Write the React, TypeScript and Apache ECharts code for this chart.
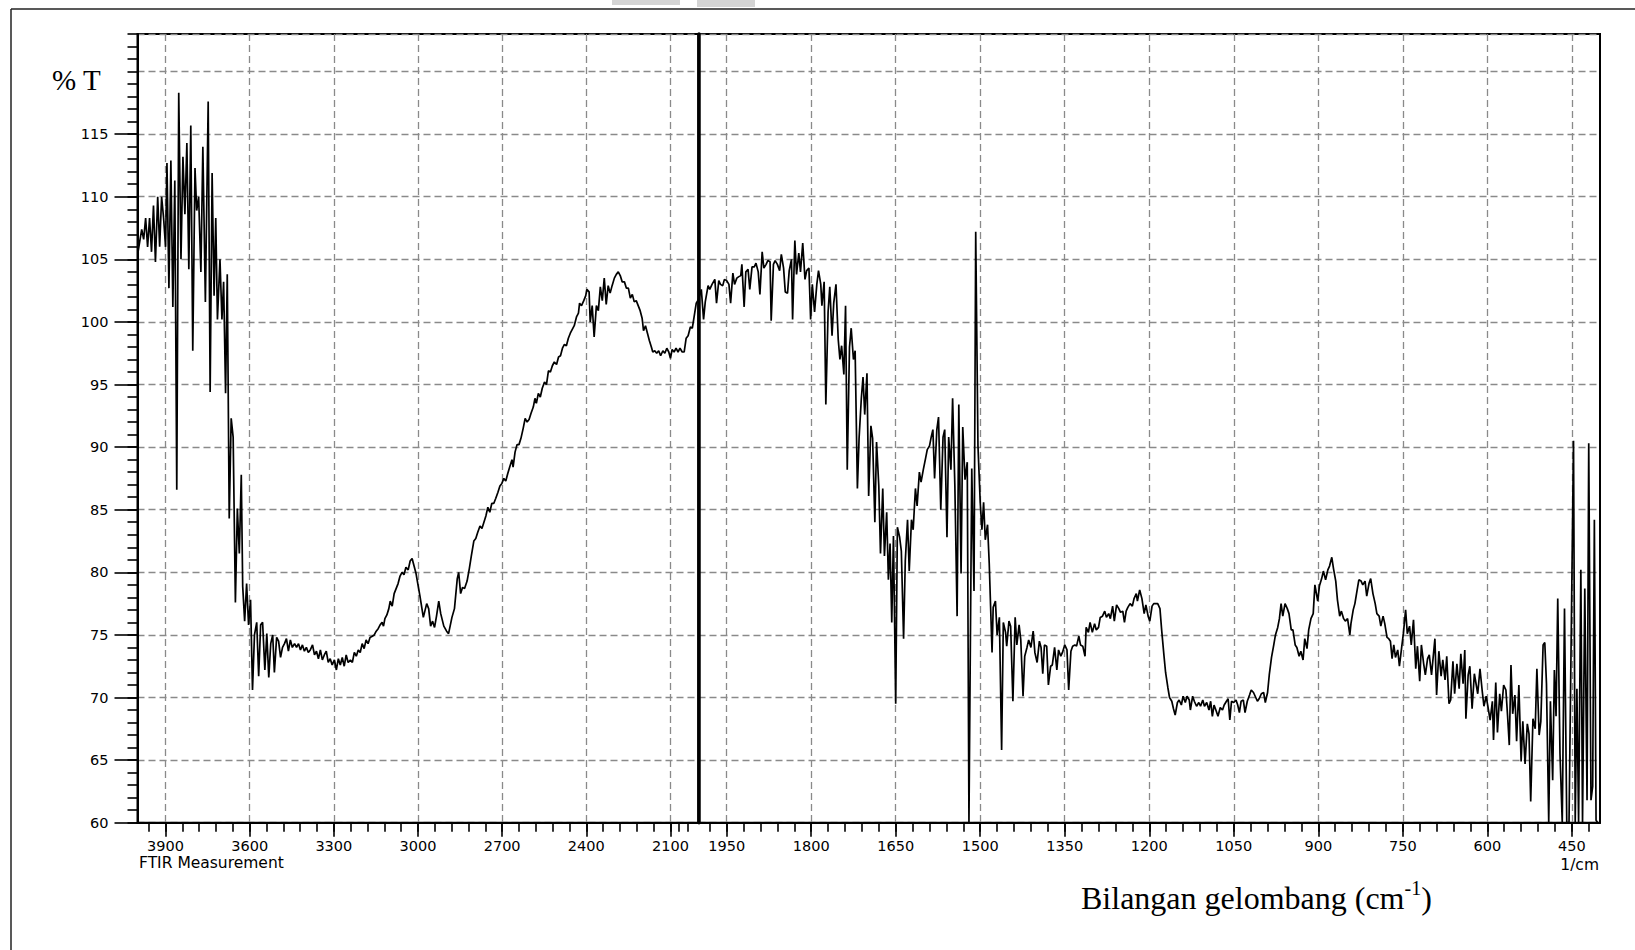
import React, { useEffect, useRef } from 'react';
import * as echarts from 'echarts';

// ---- Spectrum data: [wavenumber (1/cm), %T] ----
const OH_REGION: [number, number][] = [
  [3998,105.6],[3985,107.4],[3978,106.6],[3971,108.3],[3964,106.0],[3957,108.3],[3950,105.6],[3943,109.3],[3936,104.8],[3928,110.0],
  [3921,106.0],[3914,110.0],[3907,108.3],[3900,106.0],[3895,112.7],[3888,102.7],[3881,112.9],[3874,101.2],[3867,111.3],[3860,86.6],
  [3853,118.3],[3845,105.0],[3838,113.2],[3831,108.6],[3824,114.3],[3817,104.2],[3810,115.7],[3803,97.7],[3795,112.3],[3789,108.9],
  [3782,110.0],[3774,104.0],[3767,114.0],[3758,101.6],[3748,117.6],[3741,94.4],[3734,111.9],[3727,102.1],[3721,108.3],[3715,100.2],
  [3706,105.0],[3699,100.2],[3693,103.2],[3686,94.3],[3680,103.8],[3673,84.3],[3666,92.3],[3659,90.8],[3651,77.6],[3644,85.1],
  [3637,81.5],[3630,87.8],[3625,78.9],[3618,76.1],[3611,79.1],[3604,75.8],[3597,77.8],[3590,70.6],[3583,75.0],[3575,76.0],
  [3568,71.7],[3561,75.8],[3554,76.0],[3546,72.2],[3539,75.1],[3532,71.6],[3525,74.3],[3518,75.0],[3512,72.0],[3504,74.8]
];

const CH_REGION: [number, number][] = [
  [3497,74.5],[3490,73.2],[3483,74.0],[3476,74.3],[3469,74.7],[3462,73.7],[3455,74.6],[3448,74.0],[3440,74.3],[3433,74.0],
  [3426,74.3],[3419,73.8],[3412,74.2],[3405,73.7],[3398,74.0],[3391,73.6],[3384,73.8],[3376,74.2],[3369,73.4],[3362,73.7],
  [3355,73.1],[3348,73.8],[3341,73.0],[3334,73.4],[3327,73.7],[3320,72.8],[3313,73.1],[3306,72.6],[3298,73.0],[3291,72.2],
  [3284,73.1],[3277,72.6],[3270,73.2],[3263,72.5],[3256,73.4],[3249,72.8],[3241,73.0],[3234,72.8],[3227,73.6],[3220,73.3],
  [3213,73.8],[3206,73.6],[3199,74.3],[3192,73.9],[3185,74.6],[3178,74.3],[3171,74.8],[3163,74.9],[3156,75.0],[3149,75.3],
  [3142,75.5],[3135,75.8],[3128,76.0],[3123,75.7],[3118,76.3],[3111,76.6],[3104,77.1],[3099,77.7],[3092,77.3],[3085,78.3],
  [3078,78.7],[3071,79.1],[3064,79.7],[3057,80.0],[3050,79.8],[3043,80.4],[3035,80.2],[3028,80.9],[3021,81.1],[3014,80.5],
  [3007,79.9]
];

const MID_REGION: [number, number][] = [
  [3000,79.0],[2993,78.1],[2981,76.4],[2969,77.5],[2962,77.1],[2955,75.7],[2948,76.1],[2941,75.6],[2934,76.5],[2926,77.7],
  [2919,76.7],[2908,75.7],[2898,75.3],[2891,75.1],[2879,76.4],[2870,77.1],[2860,79.5],[2855,80.0],[2848,78.3],[2841,78.8],
  [2834,78.7],[2825,79.3],[2817,80.3],[2810,81.3],[2801,82.5],[2794,82.7],[2787,83.2],[2779,83.7],[2772,83.5],[2765,84.0],
  [2758,84.5],[2751,85.2],[2744,84.8],[2737,85.5],[2730,85.5],[2723,85.9],[2715,86.4],[2708,86.9],[2701,87.1],[2694,87.5],
  [2687,87.3],[2680,87.9],[2672,88.5],[2665,89.0],[2661,88.4],[2654,89.6],[2647,90.2],[2640,90.2],[2633,90.7],[2625,91.5],
  [2618,92.3],[2611,92.0],[2604,92.2],[2597,92.7],[2589,93.2],[2583,93.9],[2578,93.5],[2571,94.3],[2564,94.0],[2557,94.7],
  [2549,95.2],[2542,95.0],[2535,96.1],[2528,96.0],[2521,96.5],[2514,96.8],[2506,96.6],[2499,97.2],[2492,97.3],[2485,97.9],
  [2478,98.2],[2471,98.1],[2464,98.7],[2457,99.1],[2450,99.4],[2443,99.7],[2435,100.4],[2428,100.7],[2424,101.5],[2417,101.3],
  [2409,101.7],[2402,102.1],[2398,102.6],[2390,102.4],[2386,100.0],[2379,101.3],[2372,98.8],[2364,101.3],[2357,100.9],[2350,102.8],
  [2343,101.7],[2336,103.5],[2329,101.4],[2322,102.9],[2315,102.3],[2308,102.9],[2300,103.5],[2293,103.8],[2286,104.0],[2279,103.7],
  [2272,103.2],[2264,103.2],[2257,102.7],[2250,102.7],[2243,101.9],[2236,102.2],[2229,101.6],[2222,101.7],[2215,101.3],[2208,100.9],
  [2201,100.3],[2196,99.3],[2189,99.7],[2182,99.1],[2175,98.5],[2168,98.0],[2163,97.6],[2156,97.7],[2149,97.5],[2142,97.7],
  [2135,97.3],[2127,97.7],[2120,97.5],[2113,97.9],[2106,97.6],[2100,97.1],[2094,97.8],[2087,97.6],[2080,97.9],[2073,97.6],
  [2066,97.9],[2058,97.6],[2051,97.6],[2044,98.7],[2037,98.9],[2029,99.6],[2022,99.5],[2015,100.5],[2008,101.5],[2000,101.8]
];

const CARBONYL_REGION: [number, number][] = [
  [2000,101.8],[1999,101.8],[1995,102.6],[1991,100.2],[1988,101.6],[1983,102.9],[1980,102.6],[1976,103.0],[1971,103.4],[1968,101.5],
  [1964,103.3],[1961,103.0],[1957,102.9],[1954,103.4],[1950,103.3],[1946,103.0],[1943,101.5],[1939,103.9],[1936,103.0],[1932,103.5],
  [1929,103.6],[1925,103.7],[1923,104.6],[1919,101.2],[1916,104.0],[1912,104.2],[1909,102.6],[1905,104.4],[1901,104.4],[1898,104.7],
  [1894,104.0],[1891,102.2],[1887,105.6],[1884,104.3],[1880,104.6],[1877,104.9],[1873,104.8],[1871,100.1],[1867,104.6],[1864,104.9],
  [1860,104.6],[1856,104.1],[1853,105.4],[1849,104.3],[1846,102.4],[1842,102.3],[1839,104.1],[1835,105.0],[1833,100.2],[1829,106.5],
  [1826,103.8],[1822,105.5],[1819,104.0],[1815,106.3],[1811,103.4],[1808,104.1],[1804,104.3],[1801,100.2],[1798,103.0],[1794,100.8],
  [1790,103.0],[1787,104.1],[1783,103.0],[1781,101.3],[1777,103.2],[1774,93.4],[1770,100.8],[1767,102.8],[1763,98.9],[1760,101.5],
  [1756,103.0],[1752,98.6],[1749,97.0],[1746,98.1],[1742,95.8],[1739,101.3],[1736,88.2],[1732,98.0],[1729,99.5],[1725,97.0],
  [1722,97.7],[1718,86.7],[1715,90.7],[1711,93.9],[1708,95.6],[1705,92.6],[1701,95.9],[1698,86.1],[1694,91.7],[1691,90.7],
  [1687,84.0],[1684,90.4],[1680,86.9],[1677,81.5],[1673,86.7],[1670,81.3],[1666,84.8],[1663,79.4],[1660,82.3],[1657,76.0],
  [1654,82.9],[1650,69.5],[1647,83.6],[1643,82.8],[1640,81.7],[1636,74.7],[1633,80.9],[1629,84.2],[1626,80.1],[1622,84.2],
  [1619,83.4],[1615,86.7],[1612,85.3],[1608,88.0],[1605,87.2],[1601,88.2],[1597,89.1],[1594,89.8],[1590,90.1],[1587,90.8],
  [1584,91.4],[1581,87.5],[1577,91.4],[1574,92.4],[1570,85.0],[1566,90.8],[1563,91.4],[1559,82.8],[1556,90.8],[1552,88.2],
  [1549,93.9],[1545,86.9],[1541,76.5],[1538,93.4],[1534,79.9],[1531,91.6],[1527,87.4],[1523,88.8],[1520,60.0],[1515,88.3],
  [1511,78.5],[1508,107.2],[1504,90.1],[1500,85.6],[1497,83.4],[1494,85.6],[1491,82.6],[1487,83.8],[1484,80.7]
];

const FINGERPRINT_REGION: [number, number][] = [
  [1479,73.6],[1477,77.2],[1473,77.7],[1470,75.0],[1466,76.4],[1462,65.8],[1459,76.0],[1455,75.2],[1453,74.1],[1449,76.1],
  [1446,75.7],[1442,69.7],[1438,76.4],[1435,74.2],[1431,75.8],[1428,74.6],[1424,70.1],[1421,73.3],[1417,74.0],[1414,74.6],
  [1410,74.0],[1406,75.3],[1403,73.6],[1399,72.8],[1395,74.5],[1392,74.0],[1389,71.9],[1386,74.2],[1382,74.1],[1379,71.0],
  [1375,72.5],[1372,72.6],[1368,74.0],[1364,72.2],[1361,73.8],[1357,73.3],[1354,73.6],[1350,74.2],[1346,73.8],[1343,70.6],
  [1339,73.7],[1336,74.1],[1332,74.2],[1329,74.1],[1325,74.9],[1322,74.2],[1318,74.1],[1314,73.3],[1312,75.6],[1308,75.2],
  [1305,76.0],[1301,75.2],[1297,75.9],[1294,75.4],[1290,75.6],[1287,76.4],[1283,76.5],[1279,76.9],[1276,76.4],[1272,76.7],
  [1269,76.3],[1265,77.3],[1262,76.1],[1258,77.4],[1254,77.1],[1251,76.8],[1247,76.9],[1244,76.0],[1241,76.9],[1238,77.2],
  [1234,77.5],[1230,77.3],[1227,77.9],[1223,78.3],[1221,77.7],[1217,78.6],[1213,77.9],[1209,76.7],[1206,77.4],[1202,76.5],
  [1199,76.1],[1195,77.3],[1192,77.5],[1188,77.5],[1185,77.5],[1181,77.1],[1178,75.4],[1174,73.4],[1171,72.0],[1167,70.8],
  [1164,70.0],[1160,69.7],[1157,69.1],[1154,68.6],[1150,69.6],[1147,69.8],[1143,69.4],[1140,70.1],[1136,69.6],[1133,70.1],
  [1129,69.8],[1127,69.0],[1123,70.1],[1120,69.7],[1116,69.3],[1112,69.6],[1109,69.3],[1105,69.8],[1102,69.3],[1098,69.6],
  [1094,69.0],[1091,69.7],[1088,68.5],[1085,69.4],[1081,68.9],[1078,68.5],[1074,69.2],[1070,69.0],[1067,69.4],[1063,69.7],
  [1060,69.9],[1057,68.2],[1054,69.7],[1050,69.6],[1046,69.8],[1043,69.4],[1040,68.8],[1037,69.7],[1033,69.8],[1030,68.8],
  [1026,69.7],[1022,70.2],[1019,70.6],[1015,70.4],[1012,70.1],[1008,69.7],[1005,69.9],[1001,70.3],[997,70.4],[994,69.6],
  [990,70.4],[987,71.8],[983,73.2],[979,74.2],[976,75.0],[972,75.6],[969,76.3],[966,77.5],[963,76.5],[959,77.5],
  [955,77.1],[952,76.7]
];

const LOW_REGION: [number, number][] = [
  [948,75.4],[945,75.4],[941,74.2],[938,74.0],[934,73.3],[931,73.7],[927,73.0],[924,74.7],[920,73.9],[917,75.4],
  [913,76.3],[909,76.7],[906,79.0],[901,77.7],[898,78.9],[894,79.5],[891,80.1],[887,79.4],[883,80.2],[880,80.5],
  [876,81.2],[873,80.3],[869,79.3],[866,77.8],[862,76.5],[859,76.9],[855,76.3],[852,76.1],[848,76.3],[844,75.0],
  [842,75.9],[838,77.0],[835,77.5],[831,78.6],[828,79.4],[824,79.3],[821,79.0],[817,79.3],[814,78.1],[810,79.1],
  [807,79.5],[803,78.3],[799,77.5],[796,76.7],[792,76.5],[789,75.7],[785,76.5],[782,75.9],[778,74.8],[775,74.7],
  [772,74.5],[769,73.1],[766,74.2],[763,73.2],[759,73.8],[756,72.5],[752,74.0],[749,75.1],[745,77.0],[742,75.1],
  [738,75.7],[735,74.2],[731,76.2],[727,72.3],[724,74.1],[720,71.3],[717,74.2],[713,72.7],[710,71.8],[706,73.1],
  [703,73.4],[699,71.8],[693,74.7],[690,70.2],[686,73.7],[682,71.7],[679,73.0],[675,71.4],[672,73.3],[668,69.5],
  [665,69.8],[661,72.9],[658,70.3],[654,72.7],[650,70.7],[647,73.5],[643,71.1],[640,73.8],[638,68.3],[634,71.8],
  [631,72.5],[627,69.1],[623,71.9],[620,71.1],[617,70.3],[613,72.3],[609,70.5],[606,69.3],[602,70.1],[599,69.3],
  [595,68.2],[591,69.7],[589,66.6],[585,71.2],[582,67.2],[578,70.3],[575,68.9],[571,71.0],[567,70.6],[564,68.5],
  [561,66.2],[558,72.6],[555,68.7],[551,70.2],[548,66.5],[544,71.0],[540,64.9],[537,68.1],[533,64.7],[529,67.9],
  [526,67.1],[523,61.7],[519,68.3],[515,67.5],[512,72.3],[508,67.0],[505,68.1],[501,74.2],[498,74.4],[495,71.1],
  [491,60.0],[488,69.7],[484,63.4],[481,72.2],[478,68.5],[475,77.9],[471,65.5],[467,60.0],[463,77.1],[459,60.0],
  [455,60.0],[447,90.5],[444,60.0],[441,70.7],[438,60.0],[434,80.2],[431,60.0],[427,78.7],[423,61.8],[420,90.3],
  [416,61.8],[413,62.9],[410,84.2],[407,60.2],[404,60.0]
];

// ---- Axis ticks ----
const LEFT_MAJOR_TICKS = [2100, 2400, 2700, 3000, 3300, 3600, 3900];
const RIGHT_MAJOR_TICKS = [450, 600, 750, 900, 1050, 1200, 1350, 1500, 1650, 1800, 1950];
const Y_MAJOR_TICKS = [60, 65, 70, 75, 80, 85, 90, 95, 100, 105, 110, 115];
const Y_MIN = 60;
const Y_MAX = 123;

const stepList = (a: number, b: number, s: number) => {
  const r: number[] = [];
  for (let v = a; v <= b; v += s) r.push(v);
  return r;
};
const LEFT_MINOR_TICKS = [2070, ...stepList(2040, 3960, 60)];
const RIGHT_MINOR_TICKS = stepList(420, 1980, 30);

const SANS = '"DejaVu Sans", "Liberation Sans", sans-serif';
const SERIF = '"Liberation Serif", "DejaVu Serif", serif';

const GRID_LINE = { show: true, lineStyle: { color: '#8a8a8a', width: 1.3, type: [7, 4] as any } };
const plain = (v: number) => String(v);

export default function App() {
  const ref = useRef<HTMLDivElement>(null);

  useEffect(() => {
    if (!ref.current) return;
    const chart = echarts.init(ref.current, null, { renderer: 'svg' });

    const leftData = [...OH_REGION, ...CH_REGION, ...MID_REGION];
    const rightData = [...CARBONYL_REGION, ...FINGERPRINT_REGION, ...LOW_REGION];

    const labelStyle = { color: '#000', fontFamily: SANS, fontSize: 14.5, formatter: plain };

    const option: any = {
      animation: false,
      backgroundColor: '#fff',
      grid: [
        { left: 137.5, top: 34, width: 561, height: 788.7, show: true, borderColor: '#000', borderWidth: 2, containLabel: false, outerBoundsMode: 'none' },
        { left: 698.5, top: 34, width: 901.5, height: 788.7, show: true, borderColor: '#000', borderWidth: 2, containLabel: false, outerBoundsMode: 'none' }
      ],
      xAxis: [
        {
          type: 'value', gridIndex: 0, position: 'bottom', min: 2000, max: 4000, inverse: true,
          axisLine: { show: true, onZero: false, lineStyle: { color: '#000', width: 2 } },
          axisTick: { show: true, length: 14, customValues: LEFT_MAJOR_TICKS, lineStyle: { color: '#000', width: 1.6 } },
          axisLabel: { show: true, customValues: LEFT_MAJOR_TICKS, margin: 16, ...labelStyle },
          splitLine: GRID_LINE,
        },
        {
          type: 'value', gridIndex: 0, position: 'bottom', min: 2000, max: 4000, inverse: true,
          axisLine: { show: false, onZero: false },
          axisTick: { show: true, length: 9, customValues: LEFT_MINOR_TICKS, lineStyle: { color: '#000', width: 1.6 } },
          axisLabel: { show: false },
          splitLine: { show: false },
        },
        {
          type: 'value', gridIndex: 1, position: 'bottom', min: 400, max: 2000, inverse: true,
          axisLine: { show: true, onZero: false, lineStyle: { color: '#000', width: 2 } },
          axisTick: { show: true, length: 14, customValues: RIGHT_MAJOR_TICKS, lineStyle: { color: '#000', width: 1.6 } },
          axisLabel: { show: true, customValues: RIGHT_MAJOR_TICKS, margin: 16, ...labelStyle },
          splitLine: GRID_LINE,
        },
        {
          type: 'value', gridIndex: 1, position: 'bottom', min: 400, max: 2000, inverse: true,
          axisLine: { show: false, onZero: false },
          axisTick: { show: true, length: 9, customValues: RIGHT_MINOR_TICKS, lineStyle: { color: '#000', width: 1.6 } },
          axisLabel: { show: false },
          splitLine: { show: false },
        }
      ],
      yAxis: [
        {
          type: 'value', gridIndex: 0, position: 'left', min: Y_MIN, max: Y_MAX, interval: 5,
          axisLine: { show: true, onZero: false, lineStyle: { color: '#000', width: 2 } },
          axisTick: { show: false },
          axisLabel: { show: false },
          splitLine: GRID_LINE,
        },
        {
          type: 'value', gridIndex: 0, position: 'left', min: Y_MIN, max: Y_MAX,
          axisLine: { show: false, onZero: false },
          axisTick: { show: true, length: 23, customValues: Y_MAJOR_TICKS, lineStyle: { color: '#000', width: 1.6 } },
          axisLabel: { show: true, customValues: Y_MAJOR_TICKS, margin: 29, ...labelStyle },
          splitLine: { show: false },
        },
        {
          type: 'value', gridIndex: 0, position: 'left', min: Y_MIN, max: Y_MAX, interval: 1,
          axisLine: { show: false, onZero: false },
          axisTick: { show: true, length: 10, lineStyle: { color: '#000', width: 1.6 } },
          axisLabel: { show: false },
          splitLine: { show: false },
        },
        {
          type: 'value', gridIndex: 1, position: 'left', min: Y_MIN, max: Y_MAX, interval: 5,
          axisLine: { show: true, onZero: false, lineStyle: { color: '#000', width: 3.5 } },
          axisTick: { show: false },
          axisLabel: { show: false },
          splitLine: GRID_LINE,
        }
      ],
      series: [
        {
          type: 'line', xAxisIndex: 0, yAxisIndex: 0, data: leftData, showSymbol: false, symbol: 'none',
          lineStyle: { color: '#000', width: 1.7 }, clip: true, silent: true,
        },
        {
          type: 'line', xAxisIndex: 2, yAxisIndex: 3, data: rightData, showSymbol: false, symbol: 'none',
          lineStyle: { color: '#000', width: 1.7 }, clip: true, silent: true,
        }
      ],
      graphic: [
        { type: 'line', shape: { x1: 11, y1: 9, x2: 1640, y2: 9 }, style: { stroke: '#222', lineWidth: 1.5 }, silent: true },
        { type: 'line', shape: { x1: 11, y1: 9, x2: 11, y2: 960 }, style: { stroke: '#222', lineWidth: 1.5 }, silent: true },
        { type: 'rect', shape: { x: 612, y: 0, width: 68, height: 5 }, style: { fill: '#d4d4d4' }, silent: true },
        { type: 'rect', shape: { x: 697, y: 0, width: 58, height: 7 }, style: { fill: '#d4d4d4' }, silent: true },
        {
          type: 'text', x: 52, y: 80, silent: true,
          style: { text: '% T', font: `29px ${SERIF}`, fill: '#000', textAlign: 'left', textVerticalAlign: 'middle', align: 'left', verticalAlign: 'middle' }
        },
        {
          type: 'text', x: 139, y: 863, silent: true,
          style: { text: 'FTIR Measurement', font: `15.5px ${SANS}`, fill: '#000', textAlign: 'left', textVerticalAlign: 'middle', align: 'left', verticalAlign: 'middle' }
        },
        {
          type: 'text', x: 1599, y: 865, silent: true,
          style: { text: '1/cm', font: `15.5px ${SANS}`, fill: '#000', textAlign: 'right', textVerticalAlign: 'middle', align: 'right', verticalAlign: 'middle' }
        },
        {
          type: 'text', x: 1081, y: 878, silent: true,
          style: {
            text: '{a|Bilangan gelombang (cm}{s|-1}{a|)}',
            fill: '#000', textAlign: 'left', textVerticalAlign: 'top', align: 'left', verticalAlign: 'top',
            rich: {
              a: { fontFamily: SERIF, fontSize: 32, lineHeight: 40, fill: '#000', color: '#000' },
              s: { fontFamily: SERIF, fontSize: 20, lineHeight: 20, verticalAlign: 'top', fill: '#000', color: '#000' }
            }
          }
        }
      ]
    };

    chart.setOption(option);
    return () => chart.dispose();
  }, []);

  return (
    <div
      ref={ref}
      style={{ position: 'fixed', left: 0, top: 0, width: 1635, height: 950, background: '#fff' }}
    />
  );
}
